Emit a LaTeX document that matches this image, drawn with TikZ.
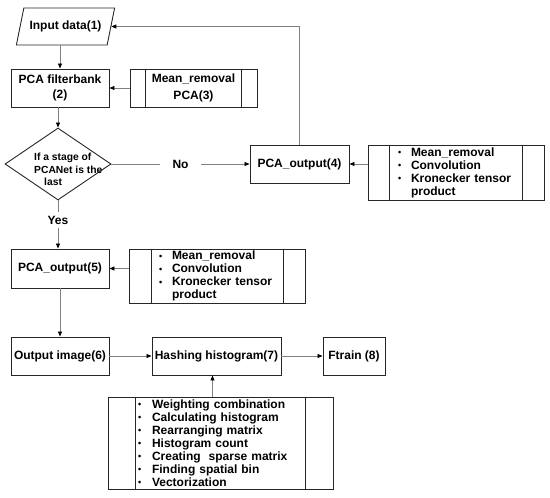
\documentclass[tikz,border=0pt]{standalone}
\usepackage{fontspec}
\setmainfont{Liberation Sans}
\usetikzlibrary{shapes.geometric,arrows.meta}
\newcommand{\bl}{\makebox[13pt][l]{\fontsize{9}{9}\selectfont\raisebox{0.6pt}{•}}}
\newcommand{\blb}{\makebox[14pt][l]{\fontsize{9}{9}\selectfont\raisebox{0.6pt}{•}}}
\newcommand{\innerlines}[2]{%
  \draw[boxline] ([xshift=#2pt]#1.north west) -- ([xshift=#2pt]#1.south west)
                 ([xshift=-#2pt]#1.north east) -- ([xshift=-#2pt]#1.south east);}
\begin{document}
\begin{tikzpicture}[x=1pt,y=-1pt,
  every node/.style={font=\bfseries\fontsize{12}{13}\selectfont, inner sep=1pt},
  boxline/.style={draw=black!85, line width=0.9pt},
  box/.style={boxline, rectangle, minimum height=38pt},
  conn/.style={draw=black!50, line width=0.8pt, -{Triangle[length=5pt,width=4pt,color=black]}},
  lbl/.style={fill=white, inner xsep=13pt, inner ysep=4pt}
]
\useasboundingbox (0,0) rectangle (550,498);

% nodes
\node[boxline, trapezium, trapezium left angle=60, trapezium right angle=120,
      trapezium stretches=true,
      minimum width=99pt, minimum height=37pt, inner sep=0pt] (inp) at (65.5,26.5) {Input data(1)};
\node[box, minimum width=98pt, align=center, font=\bfseries\fontsize{12}{15}\selectfont] (fb) at (60,88) {PCA filterbank\\(2)};
\node[box, minimum width=127pt, align=center, font=\bfseries\fontsize{12}{17}\selectfont] (pca3) at (193.5,88) {Mean\_removal\\PCA(3)};
\innerlines{pca3}{16}
\node[boxline, diamond, minimum width=106pt, minimum height=72pt, inner sep=0pt] (dec) at (58,164) {};
\node[align=left, anchor=west, font=\bfseries\fontsize{10.3}{12.5}\selectfont] (dect) at (33,169.5) {If a stage of\\PCANet is the\\\hspace*{10pt}last};
\node[box, minimum width=99pt] (out4) at (299.5,164) {PCA\_output(4)};
\node[box, minimum width=176pt, minimum height=55pt, text width=116pt, align=left] (b4) at (456,172.5)
  {\bl Mean\_removal\\\bl Convolution\\\mbox{\bl Kronecker tensor}\\\hspace*{13pt}product};
\innerlines{b4}{22}
\node[box, minimum width=98pt, minimum height=39pt] (out5) at (60,268.5) {PCA\_output(5)};
\node[box, minimum width=176pt, minimum height=54pt, text width=116pt, align=left] (b5) at (217,276)
  {\bl Mean\_removal\\\bl Convolution\\\mbox{\bl Kronecker tensor}\\\hspace*{13pt}product};
\innerlines{b5}{22.5}
\node[box, minimum width=98pt] (img) at (60,356) {Output image(6)};
\node[box, minimum width=129pt] (hash) at (216.5,356) {Hashing histogram(7)};
\node[box, minimum width=62pt] (ftr) at (354,356) {Ftrain (8)};
\node[box, minimum width=225pt, minimum height=92pt, text width=165pt, align=left] (hb) at (220.5,443)
  {\blb Weighting combination\\\blb Calculating histogram\\\blb Rearranging matrix\\\blb Histogram count\\\blb Creating\ \ sparse matrix\\\blb Finding spatial bin\\\blb Vectorization};
\innerlines{hb}{28}

% connectors
\draw[conn] (fb.north |- inp.south) -- (fb.north);
\draw[conn] (pca3.west) -- (fb.east);
\draw[conn] (dec.north |- fb.south) -- (dec.north);
\draw[conn] (dec.east) -- node[lbl] (no) {No} (out4.west);
\draw[conn] (out4.north) |- (inp.east);
\draw[conn] (b4.west |- out4.east) -- (out4.east);
\draw[conn] (dec.south) -- node[lbl, pos=0.41, inner xsep=2pt] (yes) {Yes} (dec.south |- out5.north);
\draw[conn] (b5.west |- out5.east) -- (out5.east);
\draw[conn] (out5.south) -- (img.north);
\draw[conn] (img.east) -- (hash.west);
\draw[conn] (hash.east) -- (ftr.west);
\draw[conn] ([xshift=-4pt]hash.south |- hb.north) -- ([xshift=-4pt]hash.south);
\end{tikzpicture}
\end{document}
